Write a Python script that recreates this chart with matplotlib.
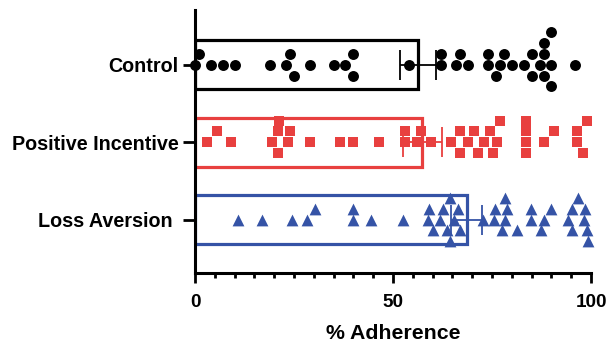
import matplotlib
matplotlib.use('Agg')
import matplotlib.pyplot as plt
import numpy as np

plt.rcParams['font.family'] = ['Liberation Sans', 'DejaVu Sans']
plt.rcParams['font.weight'] = 'bold'

groups = ['Control', 'Positive Incentive', 'Loss Aversion ']
colors = ['#000000', '#E8403F', '#3553A6']
markers = ['o', 's', '^']

means = [56.3, 57.4, 68.6]
sems = [4.5, 4.9, 3.9]

control = [0, 1, 4, 7, 10, 19, 23, 24, 25, 29, 35, 38, 40, 40, 54, 62, 62,
           66, 67, 69, 74, 74, 76, 77, 78, 80, 83, 85, 85, 87, 88, 88, 88,
           90, 90, 90, 96]
positive = [3, 5.5, 9, 19.5, 21, 21, 21.3, 23.6, 24, 29, 36.5, 40, 46.5,
            53, 53, 56, 57, 59.6, 64.6, 67, 67, 69, 70.5, 71.5, 73, 74.5,
            75.3, 76.2, 77, 83.7, 83.7, 83.7, 83.7, 88, 90.7, 96.4, 96.4,
            98, 99]
loss = [10.8, 16.8, 24.6, 28.4, 30.3, 39.8, 39.8, 44.4, 52.6, 58.8, 59.2,
        60.2, 61.9, 62.5, 63.6, 64.5, 64.5, 65.5, 66.5, 67, 72.6, 75.6,
        75.8, 77.6, 78.4, 78.4, 78.7, 81.2, 84.8, 84.8, 87.4, 88.2, 89.8,
        94.1, 95.1, 95.1, 96.8, 98.1, 98.5, 99.1, 99.3]
data = [control, positive, loss]


def swarm_offsets(values, xgap, ygap):
    order = [0, -1, 1, -2, 2, -3, 3]
    placed = []
    offsets = []
    for v in values:
        row = order[-1]
        for r in order:
            if all(abs(v - px) >= xgap for px, pr in placed if pr == r):
                row = r
                break
        placed.append((v, row))
        offsets.append(row * ygap)
    return np.array(offsets)


fig = plt.figure(figsize=(6.06, 3.44), dpi=100)
ax = fig.add_axes([0.3218, 0.2064, 0.6535, 0.765])

pos = np.arange(len(groups))
for i in range(len(groups)):
    ax.barh(pos[i], means[i], height=0.63, color='none', edgecolor=colors[i],
            linewidth=2.3, zorder=2)
    vals = np.sort(np.array(data[i]))
    offs = swarm_offsets(vals, 2.8, 0.14)
    ax.scatter(vals, pos[i] + offs, marker=markers[i], color=colors[i],
               s=62 if markers[i] != '^' else 72, linewidths=0, zorder=3,
               clip_on=False)
    ax.errorbar(means[i], pos[i], xerr=sems[i], fmt='none', ecolor=colors[i],
                elinewidth=1.3, capsize=11, capthick=1.3, zorder=4)

ax.set_xlim(0, 100)
ax.set_ylim(2.69, -0.71)
ax.set_xticks([0, 50, 100])
ax.set_xticks(np.arange(0, 101, 5), minor=True)
ax.set_yticks(pos)
ax.set_yticklabels(groups, fontsize=14.2, fontweight='bold')
ax.tick_params(axis='x', which='major', length=7.2, width=2, labelsize=13.6, pad=8)
ax.tick_params(axis='x', which='minor', length=3.8, width=2)
ax.tick_params(axis='y', which='major', length=9, width=2, pad=3)
for lab in ax.get_xticklabels():
    lab.set_fontweight('bold')
ax.set_xlabel('% Adherence', fontsize=15.3, fontweight='bold', labelpad=9)

for s in ['top', 'right']:
    ax.spines[s].set_visible(False)
for s in ['left', 'bottom']:
    ax.spines[s].set_linewidth(2.2)

fig.savefig('out.png', dpi=100)
